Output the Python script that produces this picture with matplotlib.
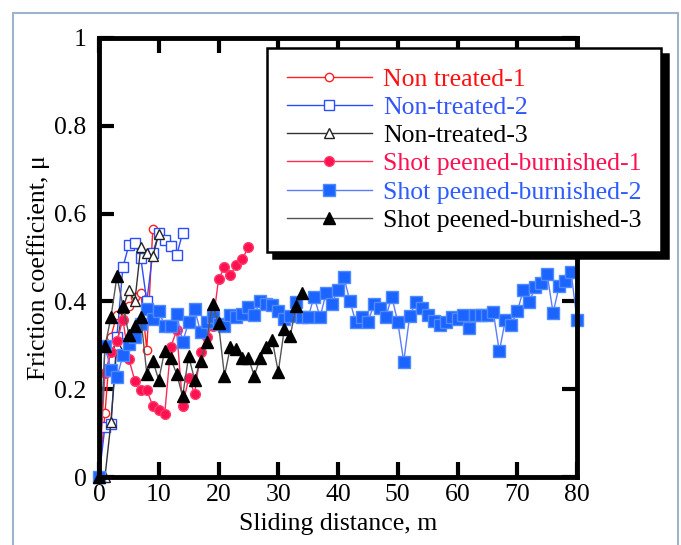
import matplotlib
matplotlib.use("Agg")
import matplotlib.pyplot as plt
from matplotlib.patches import Rectangle

plt.rcParams['font.family'] = ['Liberation Serif', 'DejaVu Serif']

# sliding distance (m) and friction coefficient for each test
x_nt1 = [0, 1, 2, 3, 4, 5, 6, 7, 8, 9]
y_nt1 = [0, 0.145, 0.32, 0.37, 0.36, 0.39, 0.41, 0.42, 0.29, 0.565]

x_nt2 = [0, 1, 2, 3, 4, 5, 6, 7, 8, 9, 10, 11, 12, 13, 14]
y_nt2 = [0, 0.115, 0.12, 0.32, 0.478, 0.528, 0.532, 0.498, 0.40, 0.51,
         0.555, 0.54, 0.527, 0.505, 0.556]

x_nt3 = [0, 1, 2, 3, 4, 5, 6, 7, 8, 9, 10]
y_nt3 = [0, 0, 0.125, 0.30, 0.385, 0.425, 0.40, 0.525, 0.51, 0.503, 0.553]

x_sp1 = list(range(0, 26))
y_sp1 = [0, 0.237, 0.285, 0.31, 0.358, 0.269, 0.219, 0.198, 0.198, 0.162,
         0.153, 0.144, 0.296, 0.334, 0.162, 0.225, 0.19, 0.285, 0.32, 0.344,
         0.45, 0.478, 0.46, 0.483, 0.496, 0.525]

x_sp2 = list(range(0, 81))
y_sp2 = [0, 0.298, 0.243, 0.227, 0.277, 0.304, 0.319, 0.348, 0.383, 0.361,
         0.379, 0.344, 0.344, 0.372, 0.308, 0.352, 0.383, 0.33, 0.352, 0.364,
         0.348, 0.344, 0.369, 0.364, 0.372, 0.387, 0.37, 0.40, 0.395, 0.391,
         0.379, 0.361, 0.366, 0.399, 0.365, 0.364, 0.411, 0.364, 0.419, 0.395,
         0.427, 0.455, 0.40, 0.352, 0.364, 0.352, 0.393, 0.385, 0.364, 0.411,
         0.353, 0.263, 0.367, 0.398, 0.386, 0.368, 0.355, 0.346, 0.353, 0.364,
         0.361, 0.368, 0.34, 0.368, 0.368, 0.369, 0.375, 0.286, 0.357, 0.347,
         0.377, 0.425, 0.398, 0.432, 0.443, 0.462, 0.374, 0.434, 0.447, 0.468,
         0.357]

x_sp3 = list(range(0, 35))
y_sp3 = [0, 0.298, 0.364, 0.457, 0.39, 0.324, 0.344, 0.364, 0.235, 0.265,
         0.221, 0.288, 0.27, 0.235, 0.184, 0.275, 0.222, 0.264, 0.308, 0.393,
         0.35, 0.23, 0.297, 0.292, 0.27, 0.27, 0.231, 0.272, 0.295, 0.312,
         0.239, 0.336, 0.321, 0.389, 0.418]

labels = ["Non treated-1", "Non-treated-2", "Non-treated-3",
          "Shot peened-burnished-1", "Shot peened-burnished-2",
          "Shot peened-burnished-3"]
text_colors = ["#ff1010", "#3355ff", "black", "#ff1050", "#2d5cff", "black"]

FS = 18.5

fig = plt.figure(figsize=(6.81, 5.45), dpi=100)
ax = fig.add_axes([99/681, 1-477/545, 478/681, 439/545])

# page frame
fig.add_artist(Rectangle((13/681, -0.01), 665/681, 1-13/545+0.01,
                         transform=fig.transFigure, fill=False,
                         edgecolor="#9fb3cc", linewidth=1.5))

kw = dict(linewidth=1.0, clip_on=False)
ax.plot(x_nt1, y_nt1, color="#ff2020", marker="o", markersize=6,
        markerfacecolor="white", markeredgecolor="#ff2020", label=labels[0], **kw)
ax.plot(x_nt2, y_nt2, color="#2a4dff", marker="s", markersize=7,
        markerfacecolor="white", markeredgecolor="#2a4dff", label=labels[1], **kw)
ax.plot(x_nt3, y_nt3, color="#333333", marker="^", markersize=7.5,
        markerfacecolor="white", markeredgecolor="#222222", label=labels[2], **kw)
ax.plot(x_sp1, y_sp1, color="#ff2a5a", marker="o", markersize=7,
        markerfacecolor="#ff1050", markeredgecolor="#ff3c6a", label=labels[3], **kw)
ax.plot(x_sp2, y_sp2, color="#5a7cff", marker="s", markersize=8,
        markerfacecolor="#1c64ff", markeredgecolor="#4f8aff", label=labels[4], **kw)
ax.plot(x_sp3, y_sp3, color="#555555", marker="^", markersize=8.5,
        markerfacecolor="black", markeredgecolor="black", label=labels[5], **kw)

ax.set_xlim(0, 80)
ax.set_ylim(0, 1)
ax.set_xticks(range(0, 81, 10))
ax.set_yticks([0, 0.2, 0.4, 0.6, 0.8, 1])
ax.set_yticklabels(["0", "0.2", "0.4", "0.6", "0.8", "1"])

for s in ax.spines.values():
    s.set_linewidth(3.5)
ax.tick_params(direction="in", length=11, width=3, top=True, right=True,
               labelsize=FS)
ax.tick_params(axis="x", pad=5)
ax.tick_params(axis="y", pad=9)

ax.set_xlabel("Sliding distance, m", fontsize=FS)
ax.set_ylabel("Friction coefficient, μ", fontsize=FS)
ax.xaxis.set_label_coords(0.5, -0.082)
ax.yaxis.set_label_coords(-0.103, 0.478)

leg = ax.legend(loc="upper left", bbox_to_anchor=(267/681, 1-48/545),
                bbox_transform=fig.transFigure, borderaxespad=0,
                fontsize=FS, handlelength=3.3, handletextpad=0.43,
                borderpad=0.78, labelspacing=0.2, numpoints=1,
                fancybox=False, framealpha=1, edgecolor="black",
                shadow={"ox": 4.5, "oy": -4.5, "color": "black", "alpha": 1})
leg.get_frame().set_linewidth(1.8)
for t, c in zip(leg.get_texts(), text_colors):
    t.set_color(c)

fig.savefig("out.png", dpi=100)
